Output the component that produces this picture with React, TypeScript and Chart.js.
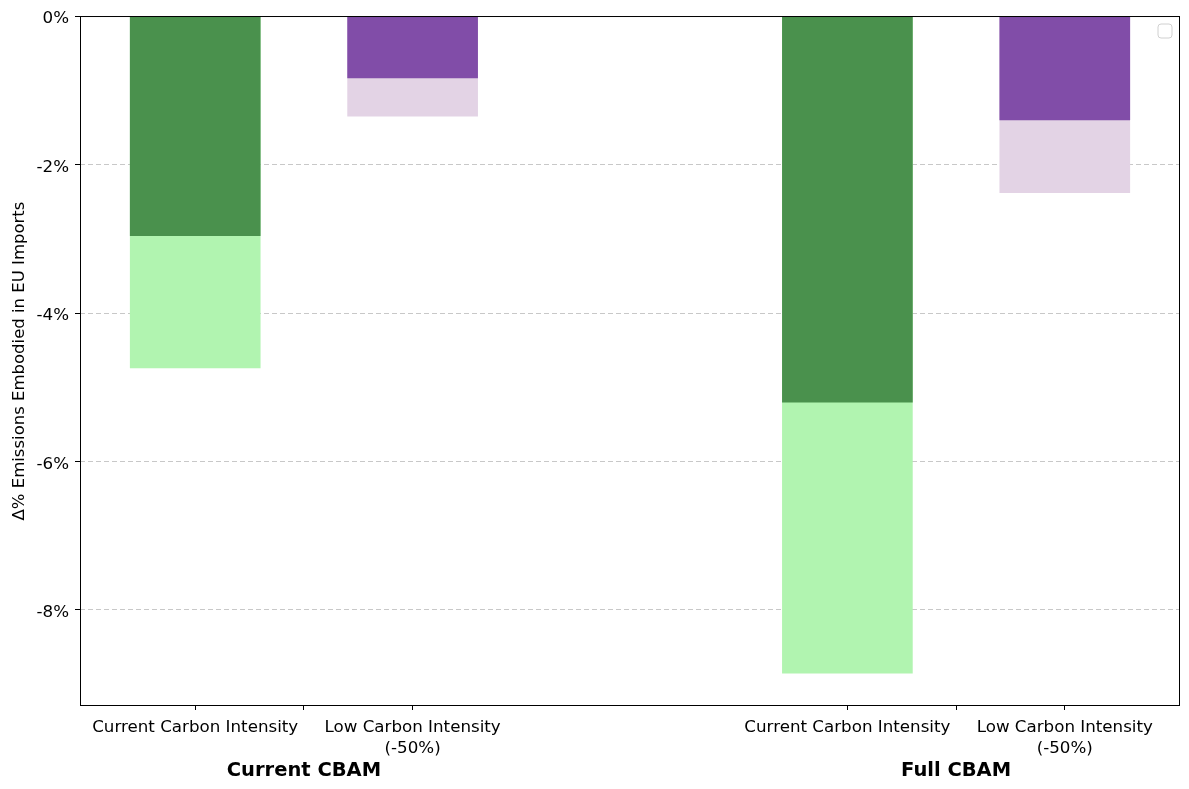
import React, { useEffect, useRef } from "react";
import { Chart, registerables } from "chart.js";

Chart.register(...registerables);

const positions = [0, 1, 3, 4];
const tickLabels: (string | string[])[] = [
  "Current Carbon Intensity",
  ["Low Carbon Intensity", "(-50%)"],
  "Current Carbon Intensity",
  ["Low Carbon Intensity", "(-50%)"],
];
const groupLabels = ["Current CBAM", "Full CBAM"];
const groupCenters = [0.5, 3.5];
const totalChange = [-4.74, -1.35, -8.85, -2.38];
const partialChange = [-2.96, -0.835, -5.2, -1.4];
const darkColors = ["#4a914d", "#814da8", "#4a914d", "#814da8"];
const lightColors = ["#b1f4b0", "#e3d3e5", "#b1f4b0", "#e3d3e5"];
const yTicks = [-8, -6, -4, -2, 0];
const yTitle = "Δ% Emissions Embodied in EU Imports";

const FONT = "'DejaVu Sans', sans-serif";

const decor = {
  id: "decor",
  afterDraw(chart: any) {
    const { ctx, chartArea } = chart;
    const { left, right, top, bottom } = chartArea;
    ctx.save();
    ctx.strokeStyle = "#000";
    ctx.lineWidth = 1;
    ctx.setLineDash([]);
    ctx.strokeRect(left + 0.5, top + 0.5, right - left - 1, bottom - top - 1);
    // group labels
    ctx.fillStyle = "#000";
    ctx.font = `bold 19.5px ${FONT}`;
    ctx.textAlign = "center";
    ctx.textBaseline = "middle";
    const xs = chart.scales.x;
    groupLabels.forEach((g, i) => {
      ctx.fillText(g, xs.getPixelForValue(groupCenters[i]), 771);
    });
    // y title
    ctx.font = `16.5px ${FONT}`;
    ctx.translate(20, (top + bottom) / 2);
    ctx.rotate(-Math.PI / 2);
    ctx.fillText(yTitle, 0, 0);
    ctx.restore();
    // empty legend box
    ctx.save();
    ctx.strokeStyle = "#d0d0d0";
    ctx.lineWidth = 1;
    const bx = right - 22, by = top + 8, bw = 14, bh = 14, r = 3;
    ctx.beginPath();
    ctx.moveTo(bx + r, by);
    ctx.arcTo(bx + bw, by, bx + bw, by + bh, r);
    ctx.arcTo(bx + bw, by + bh, bx, by + bh, r);
    ctx.arcTo(bx, by + bh, bx, by, r);
    ctx.arcTo(bx, by, bx + bw, by, r);
    ctx.closePath();
    ctx.stroke();
    ctx.restore();
  },
};

export default function App() {
  const ref = useRef<HTMLCanvasElement>(null);
  useEffect(() => {
    document.body.style.margin = "0";
    Chart.defaults.color = "#000";
    Chart.defaults.font.family = FONT;
    const chart = new Chart(ref.current!, {
      type: "bar",
      data: {
        datasets: [
          {
            label: "partial",
            data: positions.map((x, i) => ({ x, y: partialChange[i] })),
            backgroundColor: darkColors,
            barThickness: 130,
            grouped: false,
          } as any,
          {
            label: "total",
            data: positions.map((x, i) => ({ x, y: totalChange[i] })),
            backgroundColor: lightColors,
            barThickness: 130,
            grouped: false,
          } as any,
        ],
      },
      options: {
        animation: false,
        responsive: false,
        devicePixelRatio: 1,
        layout: { padding: { top: 16, right: 9, left: 0, bottom: 0 } },
        plugins: { legend: { display: false }, tooltip: { enabled: false } },
        scales: {
          x: {
            type: "linear",
            offset: false,
            min: -0.53,
            max: 4.53,
            afterBuildTicks: (s: any) => {
              s.ticks = [0, 0.5, 1, 3, 3.5, 4].map((v) => ({ value: v }));
            },
            afterFit: (s: any) => {
              s.height = 83;
            },
            ticks: {
              autoSkip: false,
              maxRotation: 0,
              padding: 7,
              font: { size: 16.7, family: FONT, lineHeight: 1.25 },
              color: "#000",
              callback: (v: any) => {
                const i = positions.indexOf(Number(v));
                return i >= 0 ? tickLabels[i] : "";
              },
            },
            grid: {
              offset: false,
              drawOnChartArea: false,
              drawTicks: true,
              tickLength: 4,
              tickColor: "#000",
            },
            border: { display: false },
          },
          y: {
            min: -9.293,
            max: 0,
            afterBuildTicks: (s: any) => {
              s.ticks = yTicks.map((v) => ({ value: v }));
            },
            afterFit: (s: any) => {
              s.width = 80;
            },
            ticks: {
              padding: 6,
              labelOffset: 3,
              font: { size: 16.7, family: FONT },
              color: "#000",
              callback: (v: any) => `${v}%`,
            },
            grid: {
              color: "#c8c8c8",
              lineWidth: 1,
              tickLength: 5,
              tickColor: "#000",
            },
            border: { display: false, dash: [5, 3] },
          },
        },
      },
      plugins: [decor],
    } as any);
    return () => chart.destroy();
  }, []);
  return (
    <div style={{ width: 1189, height: 789 }}>
      <canvas ref={ref} width={1189} height={789} />
    </div>
  );
}
